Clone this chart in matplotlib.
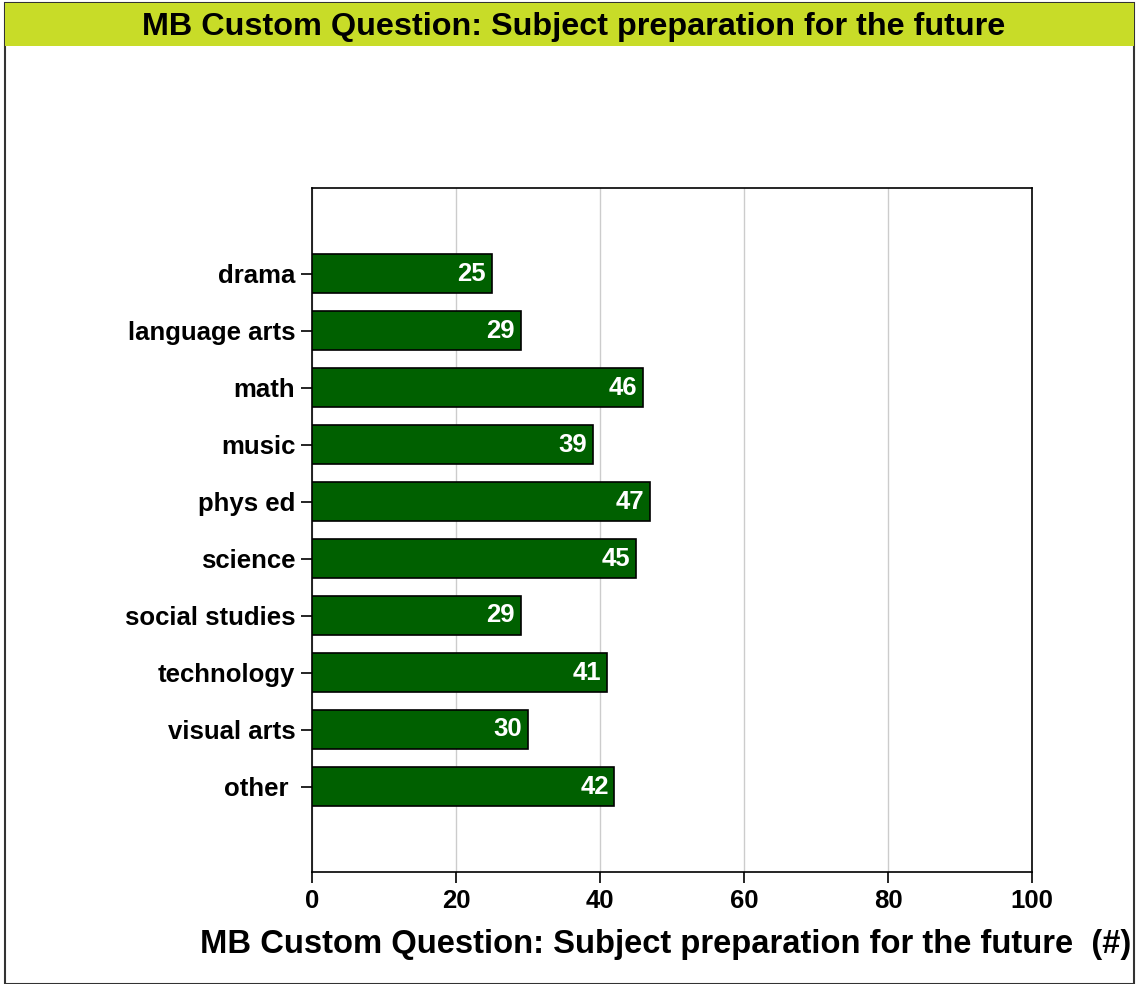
import matplotlib.pyplot as plt
import matplotlib.patches as patches
import numpy as np

# === DATA ===
subjects = ['drama', 'language arts', 'math', 'music', 'phys ed', 'science',
            'social studies', 'technology', 'visual arts', 'other ']
counts = [25, 29, 46, 39, 47, 45, 29, 41, 30, 42]
x_ticks = [0, 20, 40, 60, 80, 100]

title = 'MB Custom Question: Subject preparation for the future'

plt.rcParams['font.family'] = ['Liberation Sans', 'DejaVu Sans']

fig = plt.figure(figsize=(11.38, 9.84), dpi=100)

# === TITLE BAND + FRAME ===
W, H = 1138, 984
fig.patches.append(patches.Rectangle((5 / W, 0), 1129 / W, 1 - 3 / H, transform=fig.transFigure,
                                     facecolor='white', edgecolor='#333333', linewidth=1.5, zorder=-2))
fig.patches.append(patches.Rectangle((5 / W, 1 - 46 / H), 1129 / W, 43 / H, transform=fig.transFigure,
                                     facecolor='#c8dc28', edgecolor='none', zorder=-1))
fig.text(573.5 / W, 1 - 27 / H, title, ha='center', va='center', fontsize=23.3, fontweight='bold')

# === CHART ===
ax = fig.add_axes([312 / W, 112 / H, 720 / W, 684 / H])
ax.set_zorder(2)
y = np.arange(len(subjects))
ax.barh(y, counts, height=0.7, color='#006000', edgecolor='black', linewidth=1.2, zorder=3)
for yi, v in zip(y, counts):
    ax.text(v - 0.8, yi, str(v), ha='right', va='center', color='white',
            fontsize=18.5, fontweight='bold', zorder=4)

ax.set_xlim(0, 100)
ax.set_ylim(len(subjects) - 1 + 1.5, -1.5)
ax.set_xticks(x_ticks)
ax.set_yticks(y)
ax.set_yticklabels(subjects)
ax.grid(axis='x', color='#cccccc', linewidth=1, zorder=0)
ax.tick_params(axis='y', length=8, width=1.2, labelsize=18.5, pad=4)
ax.tick_params(axis='x', length=8, width=1.2, labelsize=18.5, pad=4)
for lbl in ax.get_xticklabels() + ax.get_yticklabels():
    lbl.set_fontweight('bold')
for s in ax.spines.values():
    s.set_linewidth(1.2)
ax.set_xlabel(title + '  (#)', fontsize=23.6, fontweight='bold', ha='right', va='center')
ax.xaxis.set_label_coords((1131 - 312) / 720, -(944 - 872) / 684)

fig.savefig('out.png', dpi=100)
